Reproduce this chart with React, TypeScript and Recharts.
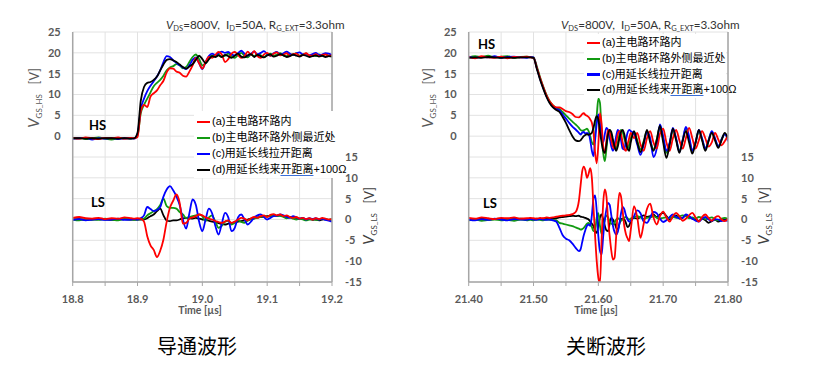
import React from 'react';
import { ComposedChart, Line, XAxis, YAxis, CartesianGrid } from 'recharts';

// ---------- Left panel (turn-on) ----------
const timeL = [
  18.80, 18.81, 18.82, 18.83, 18.84, 18.85, 18.86, 18.87, 18.88, 18.89, 18.895,
  18.90, 18.905, 18.91, 18.915, 18.92, 18.925, 18.93, 18.935, 18.94, 18.945,
  18.95, 18.955, 18.96, 18.965, 18.97, 18.975, 18.98, 18.985, 18.99, 18.995,
  19.00, 19.005, 19.01, 19.015, 19.02, 19.025, 19.03, 19.035, 19.04, 19.045,
  19.05, 19.055, 19.06, 19.065, 19.07, 19.075, 19.08, 19.085, 19.09, 19.095,
  19.10, 19.105, 19.11, 19.115, 19.12, 19.125, 19.13, 19.135, 19.14, 19.145,
  19.15, 19.155, 19.16, 19.165, 19.17, 19.175, 19.18, 19.185, 19.19, 19.195,
  19.20,
];
const hsRedL = [
  -0.4, -0.6, -0.3, -0.5, -0.7, -0.4, -0.5, -0.3, -0.6, -0.4, -0.5,
  -0.2, 6.0, 7.5, 7.0, 9.5, 10.3, 11.0, 12.2, 13.3, 15.3,
  16.3, 16.2, 15.5, 15.2, 14.5, 14.3, 15.5, 17.0, 18.8, 17.5,
  16.2, 17.8, 19.0, 18.8, 19.5, 20.2, 19.6, 17.8, 18.5, 19.8,
  20.2, 19.5, 18.8, 19.2, 20.3, 19.5, 20.4, 19.2, 18.8, 19.6,
  20.0, 19.3, 19.8, 20.1, 19.4, 19.6, 19.9, 19.3, 19.7, 19.8,
  19.2, 19.5, 19.9, 19.4, 19.3, 19.7, 19.2, 19.5, 19.6, 19.3,
  19.4,
];
const hsGreenL = [
  -0.5, -0.4, -0.7, -0.5, -0.3, -0.6, -0.8, -0.5, -0.4, -0.6, -0.5,
  0.2, 5.5, 7.5, 9.0, 10.5, 12.0, 12.8, 13.5, 14.5, 15.8,
  16.5, 16.8, 17.3, 17.0, 16.3, 16.6, 17.8, 19.0, 19.6, 18.5,
  17.0, 17.5, 18.8, 19.4, 19.2, 19.6, 19.0, 19.3, 19.8, 19.2,
  18.8, 19.5, 20.0, 19.3, 18.9, 19.6, 19.2, 19.7, 19.4, 19.0,
  19.5, 19.8, 19.3, 19.6, 19.9, 19.4, 19.2, 19.7, 19.5, 19.9,
  19.3, 19.6, 19.8, 19.3, 19.5, 19.2, 19.6, 19.4, 19.7, 19.3,
  19.4,
];
const hsBlueL = [
  -0.6, -0.5, -0.4, -0.8, -0.5, -0.6, -0.4, -0.7, -0.5, -0.5, -0.6,
  0.5, 6.5, 9.0, 10.8, 12.1, 13.2, 14.3, 15.8, 17.8, 19.2,
  19.0, 18.2, 17.6, 17.0, 16.5, 16.1, 17.0, 18.3, 18.9, 17.5,
  16.1, 17.8, 19.2, 19.8, 19.5, 19.9, 20.3, 20.0, 20.2, 19.6,
  19.4, 19.9, 20.5, 19.8, 19.3, 19.8, 20.3, 19.6, 20.0, 20.4,
  19.7, 19.3, 19.9, 20.2, 19.6, 19.9, 20.3, 19.8, 19.5, 19.9,
  20.1, 19.6, 19.8, 19.4, 19.7, 20.0, 19.5, 19.6, 19.9, 19.8,
  19.5,
];
const hsBlackL = [
  -0.5, -0.5, -0.6, -0.5, -0.6, -0.5, -0.5, -0.6, -0.5, -0.6, -0.5,
  0.8, 8.5, 11.8, 12.8, 13.0, 13.5, 14.3, 15.8, 17.2, 18.3,
  18.5, 18.2, 17.8, 17.2, 16.6, 16.2, 16.7, 17.3, 18.3, 19.3,
  18.5, 17.5, 18.4, 19.2, 19.0, 19.4, 19.0, 19.5, 19.2, 18.8,
  19.3, 19.8, 19.1, 18.9, 19.4, 19.7, 19.0, 19.5, 19.2, 18.9,
  19.4, 19.6, 19.1, 19.3, 19.7, 19.4, 19.0, 19.2, 19.6, 19.3,
  19.1, 19.5, 19.3, 19.0, 19.2, 19.4, 19.1, 19.3, 19.0, 19.2,
  19.1,
];
const lsRedL = [
  0.4, 0.6, 0.3, 0.2, 0.4, 0.1, 0.3, 0.2, 0.5, 0.3, 0.2,
  0.3, 0.2, -0.5, -4.0, -6.2, -7.3, -9.0, -7.5, -4.8, -0.5,
  2.8, 4.5, 6.0, 4.0, -1.0, -0.8, 0.2, 0.5, 0.8, 1.2,
  1.0, 0.5, 0.2, 0.0, -0.4, -0.6, -0.8, -0.5, -0.2, -0.8,
  -0.5, 0.0, 0.4, 0.2, -0.2, 0.3, 0.6, 0.4, 0.8, 1.0,
  0.6, 1.1, 1.3, 1.0, 1.2, 0.8, 1.0, 0.6, 0.4, 0.6,
  0.2, 0.4, 0.1, 0.3, 0.0, 0.3, 0.1, 0.4, 0.2, 0.0,
  0.1,
];
const lsGreenL = [
  0.0, -0.2, 0.1, 0.0, -0.1, 0.2, 0.0, -0.2, 0.1, 0.0, -0.1,
  0.0, 0.1, 0.2, 1.0, 1.5, 2.0, 2.5, 3.5, 5.0, 3.2,
  2.8, 2.8, 2.6, 1.8, 1.2, 0.4, 0.6, 0.8, 1.0, 1.2,
  0.8, -0.4, 0.5, 1.0, -0.5, -2.0, -1.5, -0.5, -0.3, -1.2,
  -0.8, -0.2, -0.6, -0.8, -0.3, 0.0, 0.2, 0.4, 0.6, 0.8,
  0.7, 0.9, 1.0, 0.8, 0.9, 0.6, 0.3, 0.5, 0.2, 0.0,
  0.2, 0.0, -0.2, 0.0, 0.1, -0.1, 0.0, 0.2, 0.0, -0.1,
  0.0,
];
const lsBlueL = [
  -0.1, 0.1, -0.2, 0.0, 0.1, -0.1, 0.0, 0.2, -0.1, 0.0, 0.1,
  0.0, 0.3, 1.0, 3.0, 2.5, 2.0, 2.3, 3.0, 5.5, 7.2,
  8.0, 7.0, 5.5, 3.5, 0.0, -2.2, 1.5, 4.8, 3.5, -0.5,
  -2.8, 0.0, 2.6, 1.5, -1.5, -3.6, -1.0, 1.6, 0.5, -2.8,
  -2.0, 0.5, 1.2, 0.0, -1.2, -0.5, 0.5, 1.0, 1.2, 0.6,
  0.0, 0.4, 0.8, 0.9, 1.2, 1.0, 0.6, 0.4, 0.8, 0.5,
  0.2, 0.4, 0.0, 0.3, 0.1, 0.3, 0.0, 0.2, -0.1, -0.3,
  -0.5,
];
const lsBlackL = [
  0.0, 0.1, -0.1, 0.0, 0.1, 0.0, -0.1, 0.0, 0.1, 0.0, 0.0,
  0.0, 0.0, 0.0, 0.3, 0.8, 1.2, 2.0, 2.6, 1.0, -0.3,
  -0.4, -0.2, -0.2, 0.0, 0.3, 0.4, 0.3, 0.2, 0.4, 0.2,
  0.0, -0.1, -0.3, -0.5, -0.6, -0.9, -1.1, -1.2, -1.0, -0.9,
  -0.7, -0.5, -0.4, -0.2, 0.0, 0.2, 0.3, 0.5, 0.6, 0.7,
  0.8, 0.9, 1.0, 0.9, 1.0, 0.8, 0.7, 0.6, 0.5, 0.4,
  0.2, 0.3, 0.0, 0.1, -0.1, 0.0, -0.2, 0.0, 0.1, -0.1,
  0.0,
];

// ---------- Right panel (turn-off) ----------
const timeR = [
  21.40, 21.41, 21.42, 21.43, 21.44, 21.45, 21.46, 21.47, 21.48, 21.49,
  21.495, 21.50, 21.505, 21.51, 21.515, 21.52, 21.525, 21.53, 21.535, 21.54, 21.545, 21.55, 21.555, 21.56, 21.565,
  21.57, 21.5725, 21.575, 21.5775, 21.58, 21.5825, 21.585, 21.5875, 21.59, 21.5925, 21.595, 21.5975, 21.60,
  21.6025, 21.605, 21.6075, 21.61, 21.6125, 21.615, 21.6175, 21.62, 21.6225, 21.625, 21.6275, 21.63,
  21.6325, 21.635, 21.6375, 21.64, 21.6425, 21.645, 21.6475, 21.65,
  21.655, 21.66, 21.665, 21.67, 21.675, 21.68, 21.685, 21.69, 21.695, 21.70,
  21.705, 21.71, 21.715, 21.72, 21.725, 21.73, 21.735, 21.74, 21.745, 21.75,
  21.755, 21.76, 21.765, 21.77, 21.775, 21.78, 21.785, 21.79, 21.795, 21.80,
];
const hsRedR = [
  19.0, 18.7, 19.2, 18.9, 18.8, 19.1, 18.7, 19.0, 18.9, 19.1,
  18.9, 18.8, 16.5, 14.0, 11.8, 9.8, 8.3, 7.4, 6.9, 6.9, 6.5, 6.0, 5.8, 5.3, 4.6,
  4.5, 4.8, 5.3, 5.5, 5.1, 4.9, 4.6, 4.0, 3.2, 1.0, -4.0, -6.5, -2.0,
  5.5, 3.0, -2.5, -4.0, -1.0, 1.5, 1.0, -1.0, -2.5, -3.0, -1.5, 0.5,
  1.2, 0.5, -1.5, -3.0, -3.5, -2.0, -0.5, 0.8,
  -0.5, 0.8, -2.0, -3.5, -0.5, 1.2, -1.5, -3.0, 0.5, 1.8,
  -1.5, -3.5, -0.5, 1.5, -1.0, -3.0, -0.5, 2.0, -0.5, -3.0,
  -1.0, 1.2, -0.5, -2.5, -1.5, 0.8, -0.8, -2.2, -1.2, 0.2,
];
const hsGreenR = [
  18.9, 19.2, 19.0, 19.3, 18.9, 19.1, 19.2, 18.8, 19.0, 19.1,
  19.0, 18.9, 16.8, 14.2, 11.9, 9.9, 8.4, 7.4, 6.8, 6.5, 5.8, 5.0, 4.2, 3.5, 2.8,
  2.0, 1.5, 1.3, 1.4, 1.6, 1.8, 1.2, 0.0, -1.5, -2.0, 0.5, 5.0, 9.0,
  8.0, 1.0, -4.0, -6.0, -3.0, 0.5, 1.5, 0.5, -1.5, -2.8, -3.0, -1.5,
  0.5, 1.5, 1.0, -0.5, -2.0, -3.0, -2.0, -0.5,
  1.0, -1.0, -3.2, -1.2, 1.2, -1.0, -3.2, -0.8, 2.2, -0.8,
  -4.0, -1.8, 1.5, -0.8, -3.5, -1.0, 1.8, -0.8, -3.5, -1.5,
  1.2, -0.8, -3.0, -1.0, 1.0, -0.8, -2.5, -0.8, 0.5, -0.3,
];
const hsBlueR = [
  19.1, 18.8, 19.0, 18.9, 19.2, 18.8, 19.0, 19.1, 18.9, 18.8,
  19.0, 18.9, 16.4, 13.8, 11.6, 9.6, 8.1, 7.1, 6.6, 6.2, 5.2, 4.2, 3.2, 2.3, 1.6,
  0.8, 0.4, 0.8, 1.0, 0.6, 0.8, 0.5, -1.0, -3.5, -4.8, -1.0, 3.0, 5.2,
  3.0, -0.5, -1.5, 0.5, 2.0, 1.5, -0.5, -2.5, -3.5, -2.0, 0.0, 1.5,
  1.0, -1.0, -3.0, -3.2, -1.0, 0.8, 1.5, 1.2,
  0.5, -2.0, -4.5, -2.0, 1.0, -0.5, -5.0, -3.0, 2.8, 0.0,
  -3.5, -1.5, 2.0, -0.5, -3.8, -1.0, 2.2, 0.0, -3.5, -1.5,
  1.5, -0.5, -3.0, -1.0, 1.2, -0.5, -2.5, -0.8, 0.5, -1.2,
];
const hsBlackR = [
  18.8, 18.9, 18.8, 19.0, 18.9, 18.8, 18.9, 18.8, 18.9, 18.9,
  18.9, 18.8, 16.2, 13.6, 11.4, 9.4, 7.9, 6.9, 6.3, 5.8, 4.6, 3.2, 1.5, 0.0, -1.0,
  -1.2, -1.0, -0.5, 0.0, 0.3, 0.5, 0.3, 0.5, 0.8, 2.0, 3.8, 4.8, 4.0,
  1.0, -1.5, -3.5, -4.0, -2.0, 0.5, 1.5, 1.0, -0.8, -2.5, -3.5, -2.5,
  -0.5, 1.0, 1.5, 0.5, -1.5, -3.0, -3.5, -1.5,
  1.2, -1.5, -3.8, -1.5, 1.5, -1.5, -3.5, -1.0, 2.5, -1.5,
  -5.2, -2.0, 1.8, -1.0, -4.0, -1.2, 1.2, -1.5, -4.2, -1.5,
  1.5, -1.0, -3.5, -1.2, 0.8, -1.0, -2.8, -1.0, 0.8, -0.5,
];
const lsRedR = [
  0.4, 0.2, 0.5, 0.3, 0.1, 0.4, 0.3, 0.5, 0.2, 0.3,
  0.4, 0.3, 0.2, 0.4, 0.3, 0.5, 0.4, 0.5, 0.7, 0.8, 0.9, 1.0, 1.1, 1.3, 1.8,
  4.5, 8.0, 11.5, 12.7, 11.8, 10.0, 11.0, 12.3, 10.0, 3.0, -4.0, -10.0, -14.0,
  -15.3, -5.0, 4.0, 7.2, 5.5, 0.0, -4.0, -7.5, -9.6, -9.2, -4.0, 2.5,
  6.4, 5.5, 2.0, -1.5, -3.5, -4.5, -5.2, -2.5,
  3.2, 0.5, -4.4, -1.0, 2.5, 3.8, 0.5, -1.2, 0.8, 1.9,
  0.5, -0.5, 0.8, 1.6, 0.8, -0.3, 0.2, 1.0, 1.6, 0.5,
  -0.5, 0.6, 1.2, 0.4, -0.3, 0.5, 0.8, 0.0, -0.4, 0.2,
];
const lsGreenR = [
  -0.2, 0.0, -0.3, -0.1, 0.0, -0.2, -0.1, -0.3, 0.0, -0.2,
  -0.1, -0.2, 0.0, -0.1, -0.2, 0.0, -0.1, -0.1, -0.2, -0.8, -1.0, -1.2, -1.4, -1.6, -1.9,
  -2.2, -2.4, -2.3, -2.0, -1.5, -1.0, -0.8, -1.2, -1.8, -2.8, -2.5, 0.5, 1.5,
  -1.5, -3.5, -2.0, 0.0, 1.0, 0.5, -0.5, -1.0, -1.2, -0.8, 0.0, 0.3,
  0.0, -0.3, 0.0, 0.4, 0.6, 0.3, 0.0, 0.2,
  0.6, 0.8, 0.5, 0.2, 0.4, 0.5, 0.8, 0.4, 0.2, 0.4,
  0.5, 0.3, 0.6, 0.4, 0.7, 1.0, 0.8, 0.3, 0.5, 0.2,
  0.6, 0.4, 0.1, 0.3, 0.5, 0.0, -0.2, 0.2, 0.4, 0.1,
];
const lsBlueR = [
  0.0, -0.2, 0.1, -0.1, 0.2, 0.0, -0.2, 0.1, 0.0, -0.1,
  0.1, 0.0, -0.1, 0.1, 0.0, -0.1, 0.0, -0.2, -0.5, -2.0, -3.8, -4.6, -5.0, -5.8, -6.8,
  -7.6, -7.2, -5.5, -3.8, -2.5, -1.5, -1.2, -1.5, 1.0, 5.0, 5.8, 2.0, -4.0,
  -7.5, -8.4, -4.0, 0.0, 2.5, 4.0, 3.5, 1.0, -1.5, -3.0, -3.6, -3.0,
  -1.0, 1.5, 3.0, 2.5, 1.0, 0.0, -0.5, -0.3,
  0.8, 2.2, 1.5, -0.5, -0.8, 0.5, 1.8, 1.5, 0.2, -0.6,
  -0.2, 0.6, 1.2, 0.6, 0.3, 0.4, 1.2, 0.8, 0.2, -0.3,
  -0.5, 0.2, 0.6, 0.0, -0.3, 0.1, 0.0, -0.4, -0.2, -0.3,
];
const lsBlackR = [
  0.1, 0.0, 0.2, 0.0, 0.1, 0.2, 0.0, 0.1, 0.2, 0.1,
  0.2, 0.1, 0.2, 0.1, 0.2, 0.2, 0.3, 0.2, 0.3, 0.5, 0.6, 0.7, 0.8, 0.9, 0.8,
  0.9, 0.7, 0.6, 0.5, 0.4, 0.2, 0.0, -0.5, -1.0, -1.6, -2.8, -3.2, -1.5,
  0.5, 1.2, 0.0, -1.5, -2.6, -2.8, -1.0, 0.4, 0.0, -0.8, -2.0, -2.4,
  -1.0, 0.0, 0.2, 0.0, -0.8, -1.8, -1.5, -0.5,
  0.4, 0.2, 0.6, 1.0, 0.6, 0.8, 1.2, 0.6, 1.2, 1.6,
  0.8, 0.0, 0.6, 1.0, 0.2, 0.4, 1.0, 0.6, 0.2, 0.0,
  -0.4, 0.2, -0.2, -0.8, -0.4, 0.0, -0.5, -0.2, 0.0, -0.2,
];

// ---------- Ticks & labels ----------
const xTicksL = [18.8, 18.85, 18.9, 18.95, 19.0, 19.05, 19.1, 19.15, 19.2];
const xTicksR = [21.4, 21.45, 21.5, 21.55, 21.6, 21.65, 21.7, 21.75, 21.8];
const hsTicks = [-35, -30, -25, -20, -15, -10, -5, 0, 5, 10, 15, 20, 25];
const lsTicks = [-15, -10, -5, 0, 5, 10, 15];
const legendLabels = ['(a)主电路环路内', '(b)主电路环路外侧最近处', '(c)用延长线拉开距离', '(d)用延长线来'];
const seriesColors = ['#ff0000', '#119a11', '#0000ff', '#000000'];
const captions = ['导通波形', '关断波形'];

const GRID = '#e2e2e2';
const AXIS = '#a6a6a6';
const TXT = '#595959';
const FONT = 'Lato, "Liberation Sans", "Noto Sans CJK SC", sans-serif';
const tickStyle = { fontSize: 11, fontWeight: 700, fill: TXT, fontFamily: FONT };

function build(time: number[], hs: number[][], ls: number[][]) {
  return time.map((t, i) => ({
    t,
    hsA: hs[0][i], hsB: hs[1][i], hsC: hs[2][i], hsD: hs[3][i],
    lsA: ls[0][i], lsB: ls[1][i], lsC: ls[2][i], lsD: ls[3][i],
  }));
}
const dataL = build(timeL, [hsRedL, hsGreenL, hsBlueL, hsBlackL], [lsRedL, lsGreenL, lsBlueL, lsBlackL]);
const dataR = build(timeR, [hsRedR, hsGreenR, hsBlueR, hsBlackR], [lsRedR, lsGreenR, lsBlueR, lsBlackR]);

const isMajor = (v: number) => Math.abs(v * 10 - Math.round(v * 10)) < 1e-6;

function Panel({ left, data, ticks, digits }: { left: number; data: any[]; ticks: number[]; digits: number }) {
  const domain = [ticks[0], ticks[ticks.length - 1]];
  const lineProps = { type: 'monotone' as const, dot: false, isAnimationActive: false, strokeWidth: 1.8, xAxisId: 'b' };
  return (
    <div style={{ position: 'absolute', left, top: 0 }}>
      <ComposedChart width={372} height={312} data={data} margin={{ top: 32, right: 0, bottom: 0, left: 32.7 }}>
        <CartesianGrid stroke={GRID} strokeWidth={1} xAxisId="b" yAxisId="hs" />
        <XAxis xAxisId="b" dataKey="t" type="number" domain={domain} ticks={ticks} interval={0} allowDataOverflow
          tickFormatter={(v: number) => (isMajor(v) ? v.toFixed(digits) : '')}
          height={30} tickSize={4} tickMargin={9} tick={tickStyle}
          axisLine={{ stroke: AXIS, strokeWidth: 1.5 }} tickLine={{ stroke: AXIS }} />
        <XAxis xAxisId="top" orientation="top" dataKey="t" type="number" domain={domain} allowDataOverflow
          height={0} tick={false} tickLine={false} axisLine={{ stroke: AXIS, strokeWidth: 1.5 }} />
        <YAxis yAxisId="hs" orientation="left" domain={[-35, 25]} ticks={hsTicks} interval={0} allowDataOverflow
          tickFormatter={(v: number) => (v >= 0 ? String(v) : '')}
          width={40} tickSize={4} tickMargin={8} tick={tickStyle} tickLine={false}
          axisLine={{ stroke: AXIS, strokeWidth: 1.5 }} />
        <YAxis yAxisId="ls" orientation="right" domain={[-15, 45]} ticks={lsTicks} interval={0} allowDataOverflow
          width={40} tickSize={4} tickMargin={9} tick={tickStyle} tickLine={false}
          axisLine={{ stroke: AXIS, strokeWidth: 1.5 }} />
        <Line {...lineProps} yAxisId="hs" dataKey="hsB" stroke={seriesColors[1]} />
        <Line {...lineProps} yAxisId="hs" dataKey="hsC" stroke={seriesColors[2]} />
        <Line {...lineProps} yAxisId="hs" dataKey="hsA" stroke={seriesColors[0]} />
        <Line {...lineProps} yAxisId="hs" dataKey="hsD" stroke={seriesColors[3]} />
        <Line {...lineProps} yAxisId="ls" dataKey="lsD" stroke={seriesColors[3]} />
        <Line {...lineProps} yAxisId="ls" dataKey="lsB" stroke={seriesColors[1]} />
        <Line {...lineProps} yAxisId="ls" dataKey="lsC" stroke={seriesColors[2]} />
        <Line {...lineProps} yAxisId="ls" dataKey="lsA" stroke={seriesColors[0]} />
      </ComposedChart>
    </div>
  );
}

const abs = (x: number, y: number, extra: React.CSSProperties = {}): React.CSSProperties => ({
  position: 'absolute', left: x, top: y, whiteSpace: 'nowrap', ...extra,
});

function Cond({ x }: { x: number }) {
  const sub: React.CSSProperties = { fontSize: 7.5, verticalAlign: -2 };
  return (
    <div style={abs(x, 17, { fontFamily: FONT, fontSize: 11.7, color: '#333', lineHeight: '14px' })}>
      <i>V</i><span style={sub}>DS</span>=800V,&nbsp; I<span style={sub}>D</span>=50A, R<span style={sub}>G_EXT</span>=3.3ohm
    </div>
  );
}

function RotLabel({ cx, cy, name, color }: { cx: number; cy: number; name: string; color: string }) {
  return (
    <div style={abs(cx, cy, { transform: 'translate(-50%,-50%) rotate(-90deg)', fontFamily: FONT, color, fontSize: 12.5, lineHeight: '14px' })}>
      <i style={{ fontSize: 15 }}>V</i><span style={{ fontSize: 8, verticalAlign: -3 }}>{name}</span>&nbsp;&nbsp;&nbsp;[V]
    </div>
  );
}

function Legend({ x, ys, box }: { x: number; ys: number[]; box: [number, number, number, number] }) {
  return (
    <>
      <div style={abs(box[0], box[1], { width: box[2], height: box[3], background: '#fff' })} />
      {legendLabels.map((lab, i) => (
        <div key={i} style={abs(x, ys[i] - 8, { height: 16, lineHeight: '16px', fontFamily: '"Liberation Sans", "Noto Sans CJK SC", sans-serif', fontSize: 11, color: '#000' })}>
          <span style={{ display: 'inline-block', width: 13, height: 2.5, background: seriesColors[i], verticalAlign: 'middle', marginRight: 2 }} />
          {lab}
          {i === 3 && (
            <>
              <span style={{ textDecoration: 'underline', textDecorationColor: '#3a6fd8', textUnderlineOffset: 2 }}>开距离</span>+100Ω
            </>
          )}
        </div>
      ))}
    </>
  );
}

const bold = (size: number, color: string): React.CSSProperties => ({ fontFamily: FONT, fontWeight: 700, fontSize: size, color });

export default function App() {
  return (
    <div style={{ position: 'absolute', left: 0, top: 0, width: 818, height: 375, background: '#fff', overflow: 'hidden' }}>
      <Panel left={0} data={dataL} ticks={xTicksL} digits={1} />
      <Panel left={396} data={dataR} ticks={xTicksR} digits={2} />

      <Legend x={197} ys={[121, 137, 153, 169]} box={[194, 111, 148, 67]} />
      <Legend x={587} ys={[42, 58, 73.5, 89]} box={[584, 34, 142, 64]} />

      <Cond x={166} />
      <Cond x={561} />

      <RotLabel cx={36} cy={98} name="GS_HS" color={TXT} />
      <RotLabel cx={430} cy={98} name="GS_HS" color={TXT} />
      <RotLabel cx={371} cy={216} name="GS_LS" color="#404040" />
      <RotLabel cx={766} cy={216} name="GS_LS" color="#404040" />

      <div style={abs(89, 117, { ...bold(13, '#000'), lineHeight: '16px' })}>HS</div>
      <div style={abs(91, 194, { ...bold(13, '#000'), lineHeight: '16px' })}>LS</div>
      <div style={abs(478, 36, { ...bold(13, '#000'), lineHeight: '16px' })}>HS</div>
      <div style={abs(483, 195, { ...bold(13, '#000'), lineHeight: '16px' })}>LS</div>

      <div style={abs(200, 310, { ...bold(10.5, TXT), transform: 'translate(-50%,-50%)' })}>Time [µs]</div>
      <div style={abs(596, 310, { ...bold(10.5, TXT), transform: 'translate(-50%,-50%)' })}>Time [µs]</div>

      <div style={abs(197, 345, { fontFamily: '"Noto Sans CJK SC", sans-serif', fontSize: 20, color: '#000', transform: 'translate(-50%,-50%)' })}>{captions[0]}</div>
      <div style={abs(606, 345, { fontFamily: '"Noto Sans CJK SC", sans-serif', fontSize: 20, color: '#000', transform: 'translate(-50%,-50%)' })}>{captions[1]}</div>
    </div>
  );
}
